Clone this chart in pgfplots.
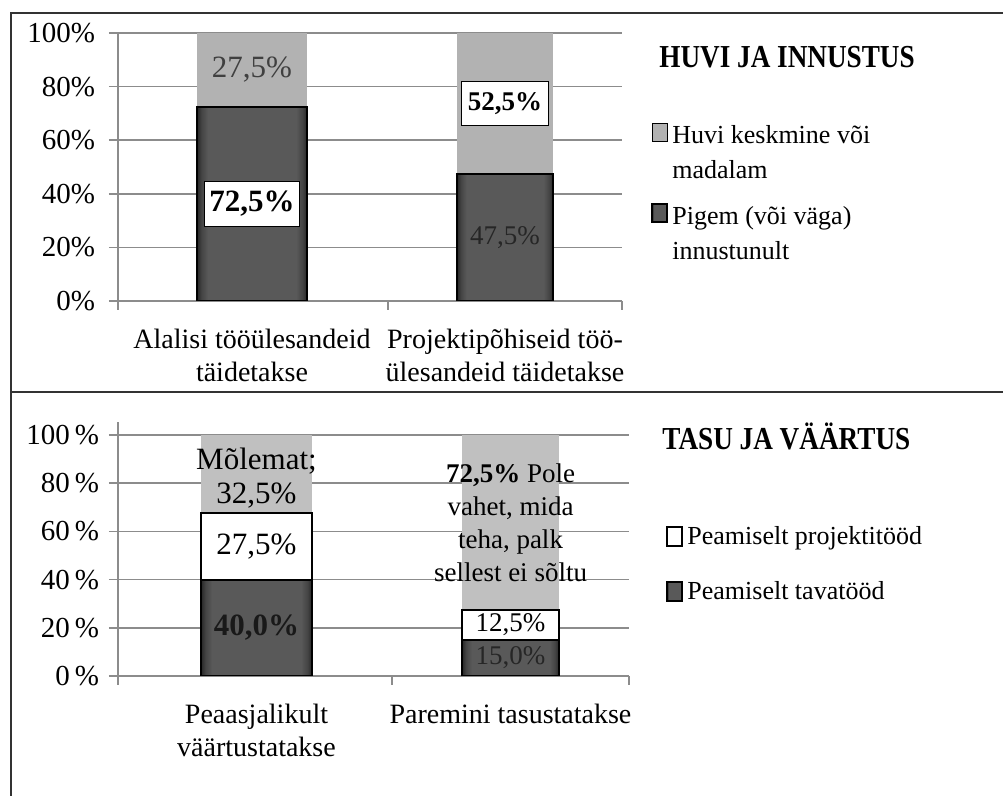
\documentclass[border=0pt]{standalone}
\usepackage{pgfplots}
\pgfplotsset{compat=1.18}
\usepackage{fontspec}
\setmainfont{Liberation Serif}
\newfontfamily\titlefont{Liberation Serif}[FakeStretch=0.85]
\definecolor{gridc}{HTML}{8C8C8C}
\definecolor{topgray}{HTML}{B2B2B2}
\definecolor{botgray}{HTML}{C0C0C0}
\definecolor{darkc}{HTML}{595959}
\definecolor{darkmid}{HTML}{444444}
\definecolor{darkedge}{HTML}{262626}
\definecolor{framec}{HTML}{333333}
\pgfdeclarehorizontalshading{barshade}{100bp}{color(0bp)=(darkedge); color(25bp)=(darkedge); color(27bp)=(darkmid); color(30bp)=(darkc); color(70bp)=(darkc); color(73bp)=(darkmid); color(75bp)=(darkedge); color(100bp)=(darkedge)}
\newcommand{\fs}{\fontsize{14}{16.5}\selectfont}
\newcommand{\ticksf}{\fontsize{14.5}{16.5}\selectfont}
\newcommand{\legf}{\fontsize{13}{17.5}\selectfont}
\newcommand{\lbig}{\fontsize{15.5}{17}\selectfont}
\newcommand{\lsmall}{\fontsize{13.5}{16.5}\selectfont}
\pgfplotsset{
  legimgTop/.style={legend image code/.code={\draw[##1] (0pt,6pt) rectangle (7.5pt,15pt);}},
  legimgBot/.style={legend image code/.code={\draw[##1] (0pt,-4.5pt) rectangle (7.5pt,5pt);}},
  topgeo/.style={scale only axis, anchor=south west, ybar stacked,
    at={(59pt,247.5pt)}, width=252pt, height=134pt,
    xmin=0, xmax=504, ymin=0, ymax=100},
  botgeo/.style={scale only axis, anchor=south west, ybar stacked,
    at={(59pt,60pt)}, width=255.5pt, height=127pt,
    xmin=0, xmax=511, ymin=0, ymax=105.4},
  panel/.style={
    axis x line*=bottom, axis y line*=left,
    axis line style={draw=gridc, line width=0.8pt},
    ymajorgrids, grid style={draw=gridc, line width=0.8pt},
    tick align=outside, major tick length=4.5pt,
    tick style={draw=gridc, line width=0.8pt},
    ytick={0,20,40,60,80,100},
    yticklabel style={font=\ticksf},
    xticklabel style={font=\fs},
    extra x tick style={major tick length=0pt, grid=none,
      xticklabel style={align=center, yshift=-10.5pt, font=\fs}},
    legend style={draw=none, fill=none, inner sep=0pt,
      column sep=0pt, font=\legf, cells={anchor=west, align=left},
      nodes={inner xsep=2pt, inner ysep=1pt}},
    reverse legend,
  },
  overlay/.style={hide axis, ymajorgrids=false},
}
\begin{document}
\begin{tikzpicture}[font=\fs]
\path[use as bounding box] (0,0) rectangle (501.5pt,398pt);
\draw[framec, line width=1pt] (5.5pt,0) -- (5.5pt,391.5pt) -- (501.5pt,391.5pt);
\draw[framec, line width=1pt] (5.5pt,202pt) -- (501.5pt,202pt);

% ---- top panel: first category
\begin{axis}[topgeo, panel, bar width=55pt,
  xtick={0,270,504}, xticklabels={,,},
  extra x ticks={134,387},
  extra x tick labels={{Alalisi tööülesandeid\\täidetakse},{Projektipõhiseid töö-\\ülesandeid täidetakse}},
  yticklabels={0\%,20\%,40\%,60\%,80\%,100\%},
  yticklabel style={xshift=-3.5pt},
  legend style={at={(axis description cs:1.0575,0.666)}, anchor=north west, row sep=10pt},
]
\addplot[fill=darkc, shading=barshade, draw=black, line width=1pt, legimgTop] coordinates {(134,72.5)};
\addlegendentry{Pigem (või väga)\\innustunult}
\addplot[fill=topgray, draw=none, legimgTop] coordinates {(134,27.5)};
\addlegendentry{Huvi keskmine või\\madalam}
\end{axis}
% ---- top panel: second category
\begin{axis}[topgeo, overlay, bar width=48pt,
  after end axis/.append code={
    \node[text=black!75, font=\lbig] at (axis cs:134,86.25) {27,5\%};
    \node[fill=white, draw=black, line width=0.6pt, font=\lbig\bfseries, inner xsep=2.5pt, inner ysep=5pt] at (axis cs:134,36.25) {72,5\%};
    \node[fill=white, draw=black, line width=0.6pt, font=\lsmall\bfseries, inner xsep=3pt, inner ysep=5.5pt] at (axis cs:387,73.75) {52,5\%};
    \node[text=black!85, font=\lsmall] at (axis cs:387,23.75) {47,5\%};
  },
]
\addplot[fill=darkc, shading=barshade, draw=black, line width=1pt] coordinates {(387,47.5)};
\addplot[fill=topgray, draw=none] coordinates {(387,52.5)};
\end{axis}

% ---- bottom panel: first category
\begin{axis}[botgeo, panel, bar width=55.5pt,
  xtick={0,274,511}, xticklabels={,,},
  extra x ticks={138.5,392.5},
  extra x tick labels={{Peaasjalikult\\väärtustatakse},{Paremini tasustatakse}},
  yticklabels={0\,\%,20\,\%,40\,\%,60\,\%,80\,\%,100\,\%},
  yticklabel style={xshift=-1.5pt},
  legend style={at={(axis description cs:1.0724,0.598)}, anchor=north west, row sep=15pt},
]
\addplot[fill=darkc, shading=barshade, draw=black, line width=1pt, legimgBot] coordinates {(138.5,40)};
\addlegendentry{Peamiselt tavatööd}
\addplot[fill=white, draw=black, line width=1pt, legimgBot] coordinates {(138.5,27.5)};
\addlegendentry{Peamiselt projektitööd}
\addplot[fill=botgray, draw=none, forget plot] coordinates {(138.5,32.5)};
\end{axis}
% ---- bottom panel: second category
\begin{axis}[botgeo, overlay, bar width=48.5pt,
  after end axis/.append code={
    \node[font=\lbig\bfseries, text=black!90] at (axis cs:138.5,20) {40,0\%};
    \node[font=\lbig] at (axis cs:138.5,53.75) {27,5\%};
    \node[font=\lbig, align=center] at (axis cs:138.5,82) {Mõlemat;\\32,5\%};
    \node[text=black!85, font=\lsmall] at (axis cs:392.5,7.5) {15,0\%};
    \node[font=\lsmall] at (axis cs:392.5,21.25) {12,5\%};
    \node[font=\lsmall, align=center] at (axis cs:392.5,63.75) {\textbf{72,5\%} Pole\\vahet, mida\\teha, palk\\sellest ei sõltu};
  },
]
\addplot[fill=darkc, shading=barshade, draw=black, line width=1pt] coordinates {(392.5,15)};
\addplot[fill=white, draw=black, line width=1pt] coordinates {(392.5,12.5)};
\addplot[fill=botgray, draw=none] coordinates {(392.5,72.5)};
\end{axis}

\node[anchor=base west, font=\fontsize{16}{18}\titlefont\bfseries, inner sep=0pt] at (329.5pt,364pt) {HUVI JA INNUSTUS};
\node[anchor=base west, font=\fontsize{16}{18}\titlefont\bfseries, inner sep=0pt] at (331pt,173pt) {TASU JA VÄÄRTUS};
\end{tikzpicture}
\end{document}
